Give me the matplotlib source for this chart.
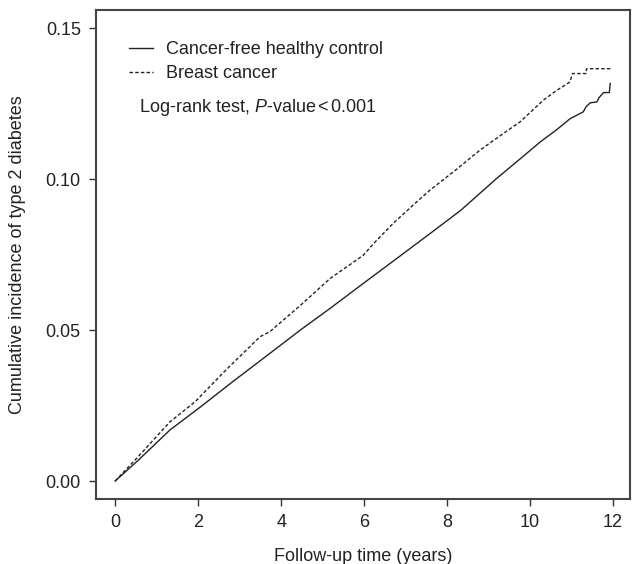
import matplotlib
matplotlib.use("Agg")
from matplotlib import pyplot as plt

plt.rcParams["font.family"] = ["Liberation Sans", "DejaVu Sans"]
plt.rcParams["mathtext.fontset"] = "custom"
plt.rcParams["mathtext.rm"] = "Liberation Sans"
plt.rcParams["mathtext.it"] = "Liberation Sans:italic"

# follow-up (years) and cumulative incidence
control_t = [0, 0.55, 1.32, 2.07, 2.87, 3.73, 4.49, 5.18, 6.11, 6.91, 7.59, 8.33,
             9.19, 9.74, 10.25, 10.65, 10.96, 11.28, 11.35, 11.45, 11.61, 11.66,
             11.77, 11.91, 11.93]
control_y = [0, 0.0068, 0.0169, 0.0247, 0.0333, 0.0423, 0.0503, 0.0572, 0.0668,
             0.0750, 0.0820, 0.0897, 0.1002, 0.1065, 0.1124, 0.1165, 0.1200,
             0.1223, 0.1240, 0.1253, 0.1256, 0.1270, 0.1287, 0.1287, 0.1317]

cancer_t = [0, 0.55, 1.32, 1.93, 2.67, 3.49, 3.73, 4.49, 5.18, 5.98, 6.23, 6.71,
            7.31, 7.59, 8.23, 8.79, 9.34, 9.76, 10.32, 10.65, 10.96, 11.02, 11.35,
            11.36, 11.96]
cancer_y = [0, 0.0080, 0.0196, 0.0263, 0.0368, 0.0478, 0.0495, 0.0585, 0.0671,
            0.0748, 0.0787, 0.0855, 0.0930, 0.0964, 0.1033, 0.1096, 0.1150,
            0.1190, 0.1262, 0.1295, 0.1322, 0.1350, 0.1350, 0.1366, 0.1366]

x_ticks = [0, 2, 4, 6, 8, 10, 12]
y_ticks = [0.00, 0.05, 0.10, 0.15]

fig = plt.figure(figsize=(6.32, 5.64), dpi=100)
ax = fig.add_axes([0.152, 0.115, 0.845, 0.867])

ax.plot(control_t, control_y, color="#222222", lw=1.0,
        label="Cancer-free healthy control")
ax.plot(cancer_t, cancer_y, color="#222222", lw=1.0, ls=(0, (2.5, 1.6)),
        label="Breast cancer")

ax.set_xlim(-0.46, 12.41)
ax.set_ylim(-0.006, 0.156)
ax.set_xticks(x_ticks)
ax.set_yticks(y_ticks)
ax.set_yticklabels([f"{v:.2f}" for v in y_ticks])
ax.tick_params(direction="out", length=5, width=1.0, colors="#333333",
               labelcolor="#222222", labelsize=13, pad=6)
for s in ax.spines.values():
    s.set_color("#444444")
    s.set_linewidth(1.5)

ax.set_xlabel("Follow-up time (years)", fontsize=13, color="#222222", labelpad=12)
ax.set_ylabel("Cumulative incidence of type 2 diabetes", fontsize=13,
              color="#222222", labelpad=14)

leg = ax.legend(loc="upper left", bbox_to_anchor=(0.032, 0.97), frameon=False,
                fontsize=13, handlelength=1.3, handletextpad=0.75,
                labelspacing=0.4)
for t in leg.get_texts():
    t.set_color("#222222")

ax.text(0.08, 0.80, r"Log-rank test, $\it{P}$-value$\,$<$\,$0.001",
        transform=ax.transAxes, fontsize=13, color="#222222", va="center")

fig.savefig("out.png", dpi=100)
